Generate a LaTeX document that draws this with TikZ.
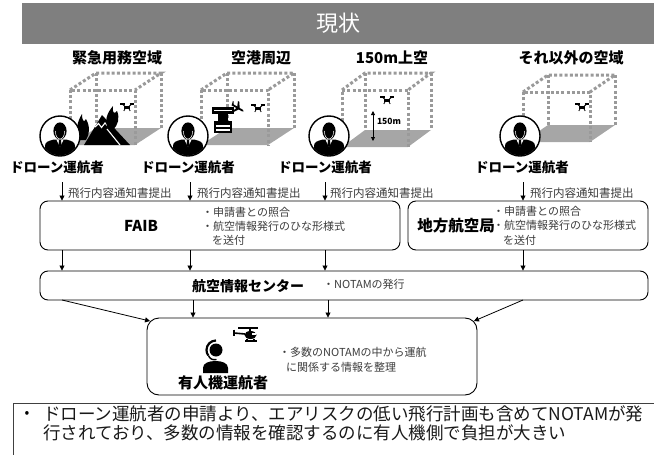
\documentclass[tikz,border=0pt]{standalone}
\usepackage{fontspec}
\setmainfont{Noto Sans CJK JP}
\usetikzlibrary{arrows.meta}
\definecolor{hdrgray}{HTML}{7F7F7F}
\definecolor{dotgray}{HTML}{9A9A9A}
\definecolor{floorgray}{HTML}{A6A6A6}
\definecolor{txtgray}{HTML}{3C3C3C}
\newcommand{\fsz}[1]{\fontsize{#1}{#1}\selectfont}
% oblique box: #1,#2 front top-left; #3 width; #4 height; #5,#6 depth offset
\newcommand{\cubeframe}[6]{%
  \fill[floorgray] (#1,#2+#4) -- (#1+#3,#2+#4) -- (#1+#3+#5,#2+#4-#6) -- (#1+#5,#2+#4-#6) -- cycle;
  \draw[dotline] (#1,#2+#4) -- (#1,#2) -- (#1+#3,#2) -- (#1+#3,#2+#4);
  \draw[dotline] (#1,#2) -- (#1+#5,#2-#6) -- (#1+#3+#5,#2-#6) -- (#1+#3,#2);
  \draw[dotline] (#1+#5,#2-#6) -- (#1+#5,#2+#4-#6);
  \draw[dotline] (#1+#3+#5,#2-#6) -- (#1+#3+#5,#2+#4-#6);
}
\tikzset{
  arr/.style={-{Triangle[length=5pt,width=5pt]}, line width=0.8pt},
  rbox/.style={draw, line width=0.9pt, rounded corners=8pt, fill=white, inner sep=0pt},
  dotline/.style={dotgray, line width=3pt, dash pattern=on 3pt off 2.2pt},
  pcirc/.style={circle, draw, line width=1.4pt, fill=white, minimum size=40pt, inner sep=0pt},
  ttl/.style={font=\fsz{15}\bfseries, inner sep=0pt},
  opl/.style={font=\fsz{13.5}\bfseries, inner sep=0pt},
  sub/.style={font=\fsz{11}, text=txtgray, inner sep=0pt, anchor=west},
  subm/.style={font=\fsz{11.5}, text=txtgray, inner sep=0pt, anchor=west},
  bigl/.style={font=\fsz{15}\bfseries, inner sep=0pt},
  note/.style={font=\fsz{17.5}, text=black!90, inner sep=0pt, anchor=west},
  suitman/.pic={
    \begin{scope}
      \clip (0,0) circle (19.4);
      \fill[black] (-15,21) -- (-15,10) .. controls (-15,6) and (-12,5) .. (-6,3.5)
                   -- (6,3.5) .. controls (12,5) and (15,6) .. (15,10) -- (15,21) -- cycle;
    \end{scope}
    \fill[white] (-3.6,3.5) -- (0,11) -- (3.6,3.5) -- cycle;
    \fill[black] (-1,4.2) -- (1,4.2) -- (1.5,9) -- (0,11.5) -- (-1.5,9) -- cycle;
    \fill[black] (0,-5) ellipse (6.6 and 8.6);
    \draw[white, line width=0.5pt] (-4.6,-5) .. controls (-4.6,1) and (-2,3) .. (0,3)
          .. controls (2,3) and (4.6,1) .. (4.6,-5);
  },
  drone/.pic={
    \draw[line width=1.3pt] (-7,-3) -- (-2.5,-3) (2.5,-3) -- (7,-3);
    \draw[line width=0.9pt] (-4.7,-3) -- (-1.5,0) (4.7,-3) -- (1.5,0);
    \fill (-2.6,-1) rectangle (2.6,1.6);
    \draw[line width=0.8pt] (-1.8,1.5) -- (-3.2,4) (1.8,1.5) -- (3.2,4);
  },
  plane/.pic={
    \fill (-7,-0.9) -- (5,-0.9) .. controls (7,-0.9) and (7,0.9) .. (5,0.9) -- (-7,0.9) -- cycle;
    \fill (-1,0) -- (2,0) -- (-2,-6) -- (-3.5,-6) -- cycle;
    \fill (-1,0) -- (2,0) -- (-2,6) -- (-3.5,6) -- cycle;
    \fill (-7,0) -- (-5,0) -- (-7,-3.5) -- (-8,-3.5) -- cycle;
  },
}
\begin{document}
\begin{tikzpicture}[x=1pt,y=-1pt]
\useasboundingbox (0,0) rectangle (654,455);

% heading bar
\node[fill=hdrgray, text=white, font=\fsz{22}, minimum width=632pt, minimum height=41pt, inner sep=0pt]
  (hdr) at (338,23.5) {現状};

% airspace titles
\node[ttl] (t1) at (117,58) {緊急用務空域};
\node[ttl] (t2) at (261,58) {空港周辺};
\node[ttl] (t3) at (392,58) {150m上空};
\node[ttl] (t4) at (571,58) {それ以外の空域};

% airspace volumes
\cubeframe{70}{90}{65}{55}{26}{17}
\cubeframe{201}{90}{67}{55}{26}{17}
\cubeframe{342}{90}{66}{57}{23}{17}
\cubeframe{523}{92}{67}{50}{25}{17}

% emergency area: mountain and fire
\fill (84,145) -- (102,115) -- (130,145) -- cycle;
\draw[white, line width=1.1pt] (95,127) -- (98.5,123.5) -- (101.5,127.5) -- (105,123) -- (108.5,127);
\draw[white, line width=1.1pt] (107,129) -- (120,145);
\fill (80,140) .. controls (75,131) and (77,122) .. (82,114) .. controls (82,121) and (84,123) .. (86,119)
      .. controls (90,126) and (90,134) .. (86,140) -- cycle;
\fill (108,129) .. controls (104,121) and (107,113) .. (113,106) .. controls (112,112) and (114,115) .. (117,111)
      .. controls (120,118) and (118,125) .. (113,130) -- cycle;
\pic at (127,107) {drone};

% airport: control tower, plane and drone
\fill (212,107) rectangle (234,113.5);
\fill[white] (214,109.5) rectangle (232,111);
\fill (218,113.5) rectangle (228,121);
\fill (214,121) rectangle (232,133);
\fill[white] (216,125) rectangle (230,126.5);
\fill[white] (216,129) rectangle (230,130.5);
\pic[rotate=-30] at (238,108) {plane};
\pic at (258,108) {drone};

% 150 m altitude
\pic at (387,100) {drone};
\draw[{Triangle[length=4pt,width=4pt]}-{Triangle[length=4pt,width=4pt]}, line width=0.8pt] (373,111) -- (373,141);
\node[font=\fsz{8.5}\bfseries, inner sep=0pt] (alt) at (389,121) {150m};

% other airspace
\pic at (582,107) {drone};

% drone operators
\node[pcirc] (p1) at (60,136) {};
\pic at (p1) {suitman};
\node[pcirc] (p2) at (188,136) {};
\pic at (p2) {suitman};
\node[pcirc] (p3) at (329,136) {};
\pic at (p3) {suitman};
\node[pcirc] (p4) at (520,136) {};
\pic at (p4) {suitman};

\node[opl] (o1) at (57,167) {ドローン運航者};
\node[opl] (o2) at (188,167) {ドローン運航者};
\node[opl] (o3) at (325,167) {ドローン運航者};
\node[opl] (o4) at (522,167) {ドローン運航者};

\coordinate (a1) at (62,182);
\coordinate (a2) at (190,182);
\coordinate (a3) at (325,182);
\coordinate (a4) at (523,182);

% reviewing offices
\node[rbox, minimum width=360pt, minimum height=49pt] (faib) at (220,225.5) {};
\node[bigl] (faibt) at (141,226) {FAIB};
\node[sub] (f1) at (202,212) {・申請書との照合};
\node[sub] (f2) at (202,226) {・航空情報発行のひな形様式};
\node[sub] (f3) at (212,240) {を送付};

\node[rbox, minimum width=240pt, minimum height=49pt] (loc) at (528,225.5) {};
\node[font=\fsz{15.5}\bfseries, inner sep=0pt] (loct) at (456,226) {地方航空局};
\node[sub] (l1) at (493,211) {・申請書との照合};
\node[sub] (l2) at (493,225.5) {・航空情報発行のひな形様式};
\node[sub] (l3) at (503,240) {を送付};

% notification arrows
\draw[arr] (a1) -- (a1 |- faib.north);
\draw[arr] (a2) -- (a2 |- faib.north);
\draw[arr] (a3) -- (a3 |- faib.north);
\draw[arr] (a4) -- (a4 |- loc.north);
\node[subm] (s1) at (68,193) {飛行内容通知書提出};
\node[subm] (s2) at (197,193) {飛行内容通知書提出};
\node[subm] (s3) at (330,193) {飛行内容通知書提出};
\node[subm] (s4) at (530,193) {飛行内容通知書提出};

% aeronautical information centre
\node[rbox, minimum width=608pt, minimum height=29pt] (ctr) at (344,285.5) {};
\node[font=\fsz{14}\bfseries, inner sep=0pt] (ctrt) at (248,286) {航空情報センター};
\node[sub] (c1) at (323,284.5) {・NOTAMの発行};

\draw[arr] (a1 |- faib.south) -- (a1 |- ctr.north);
\draw[arr] (a2 |- faib.south) -- (a2 |- ctr.north);
\draw[arr] (a3 |- faib.south) -- (a3 |- ctr.north);
\draw[arr] (a4 |- loc.south) -- (a4 |- ctr.north);

% manned aircraft operator
\node[rbox, rounded corners=12pt, minimum width=330pt, minimum height=77pt] (man) at (312,356.5) {};
\coordinate (b1) at (62,300);
\coordinate (b2) at (193,300);
\coordinate (b3) at (328,300);
\coordinate (b4) at (523,300);
\draw[arr] (b1) -- ([shift={(3.5,3.5)}]man.north west);
\draw[arr] (b2) -- (b2 |- man.north);
\draw[arr] (b3) -- (b3 |- man.north);
\draw[arr] (b4) -- ([shift={(-3.5,3.5)}]man.north east);

% pilot with headset
\fill (216,350) circle (6.5);
\draw[line width=2.2pt] (216,340.5) arc (270:145:9.5);
\draw[line width=1.4pt] (208.4,355.5) .. controls (210,359.5) and (213,360) .. (216.5,359.5);
\fill (203,373) -- (203,368) .. controls (203,363) and (209,361) .. (215.5,361)
      .. controls (222,361) and (228,363) .. (228,368) -- (228,373) -- cycle;
% helicopter
\draw[line width=1.3pt] (238,328) -- (258,328);
\draw[line width=1.2pt] (250,328) -- (250,331);
\fill (250.5,335) ellipse (6 and 4);
\fill[white] (252,332.8) rectangle (255.5,335);
\draw[line width=1.6pt] (245,334) -- (234,333);
\draw[line width=1.2pt] (234,329.5) -- (234,336);
\draw[line width=1.1pt] (245,341) -- (257,341) (247,338.5) -- (247,341) (254,338.5) -- (254,341);

\node[bigl] (mant) at (223,383) {有人機運航者};
\node[sub] (m1) at (279,352) {・多数のNOTAMの中から運航};
\node[sub] (m2) at (286,367) {に関係する情報を整理};

% summary note
\node[draw=black!75, line width=0.8pt, minimum width=660pt, minimum height=70pt, anchor=north west, inner sep=0pt]
  (nbox) at (13,403) {};
\node[font=\fsz{14}, inner sep=0pt] (nb) at (27,414) {•};
\node[note] (n1) at (43,414) {ドローン運航者の申請より、エアリスクの低い飛行計画も含めてNOTAMが発};
\node[note] (n2) at (43,433) {行されており、多数の情報を確認するのに有人機側で負担が大きい};
\end{tikzpicture}
\end{document}
